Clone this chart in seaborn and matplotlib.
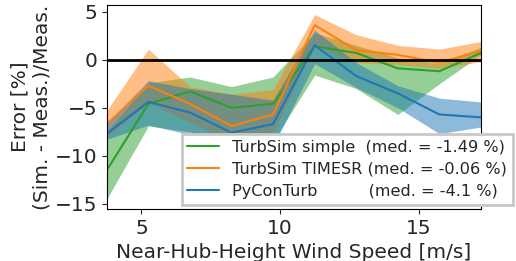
import numpy as np
import pandas as pd
import seaborn as sns
import matplotlib.pyplot as plt

# wind speed bins [m/s]
wsp = [3.75, 5.25, 6.75, 8.25, 9.75, 11.25, 12.75, 14.25, 15.75, 17.25]

# TurbSim simple
ts_simple = [-11.5, -4.6, -3.3, -5.0, -4.6, 1.4, 0.7, -0.9, -1.2, 0.7]
ts_simple_lo = [-14.5, -6.9, -7.5, -8.5, -8.5, -1.6, -3.0, -5.7, -2.5, 0.5]
ts_simple_hi = [-7.5, -2.4, -1.8, -2.8, -1.8, 2.8, 1.5, 0.2, -0.4, 1.3]

# TurbSim TIMESR
ts_timesr = [-6.7, -2.7, -4.6, -6.9, -5.7, 3.6, 1.0, 0.5, -0.3, 0.9]
ts_timesr_lo = [-8.0, -4.5, -6.5, -8.5, -7.5, 1.5, -0.3, -0.5, -0.9, -0.2]
ts_timesr_hi = [-5.3, 1.1, -2.8, -3.6, -3.1, 4.7, 2.6, 1.5, 1.1, 1.9]

# PyConTurb
pct = [-7.7, -4.4, -5.5, -7.6, -6.7, 1.5, -1.7, -3.5, -5.7, -6.0]
pct_lo = [-8.3, -6.8, -7.8, -9.0, -9.0, -0.4, -2.9, -5.0, -7.7, -7.0]
pct_hi = [-6.6, -2.2, -3.0, -3.6, -4.2, 3.1, -0.3, -2.7, -4.0, -4.4]

names = ["TurbSim simple", "TurbSim TIMESR", "PyConTurb"]
labels = ["TurbSim simple  (med. = -1.49 %)",
          "TurbSim TIMESR (med. = -0.06 %)",
          "PyConTurb          (med. = -4.1 %)"]
colors = ["tab:green", "tab:orange", "tab:blue"]

df = pd.DataFrame({
    "wsp": wsp * 3,
    "err": ts_simple + ts_timesr + pct,
    "model": [n for n in names for _ in wsp],
})

sns.set_style("ticks")
plt.rcParams["font.family"] = ["DejaVu Sans"]

fig = plt.figure(figsize=(5.16, 2.61), dpi=100)
ax = fig.add_axes([0.207, 0.199, 0.725, 0.782])

bands = [(ts_simple_lo, ts_simple_hi), (ts_timesr_lo, ts_timesr_hi), (pct_lo, pct_hi)]
for (lo, hi), c in zip(bands, colors):
    ax.fill_between(wsp, lo, hi, color=c, alpha=0.5, linewidth=0)

sns.lineplot(data=df, x="wsp", y="err", hue="model", palette=colors,
             hue_order=names, ax=ax, linewidth=1.5, legend=False)

ax.axhline(0, color="k", linewidth=2)
ax.set_xlim(3.75, 17.25)
ax.set_ylim(-15.55, 5.7)
ax.set_xticks([5, 10, 15])
ax.set_yticks([5, 0, -5, -10, -15])
ax.tick_params(labelsize=14.5)
ax.set_xlabel("Near-Hub-Height Wind Speed [m/s]", fontsize=14.5)
ax.set_ylabel("Error [%]\n(Sim. - Meas.)/Meas.", fontsize=14.5, labelpad=2)
for s in ax.spines.values():
    s.set_color("k")
    s.set_linewidth(0.8)

handles = [plt.Line2D([], [], color=c, linewidth=1.5) for c in colors]
leg = ax.legend(handles, labels, loc="upper left",
                bbox_to_anchor=(0.352, 0.487), bbox_transform=fig.transFigure,
                fontsize=11.6, frameon=True, fancybox=False, framealpha=1,
                borderaxespad=0, handlelength=2.0, handletextpad=0.8,
                labelspacing=0.45, borderpad=0.35)
leg.get_frame().set_edgecolor("#c8c8c8")
leg.get_frame().set_linewidth(2)

fig.savefig("out.png", dpi=100)
